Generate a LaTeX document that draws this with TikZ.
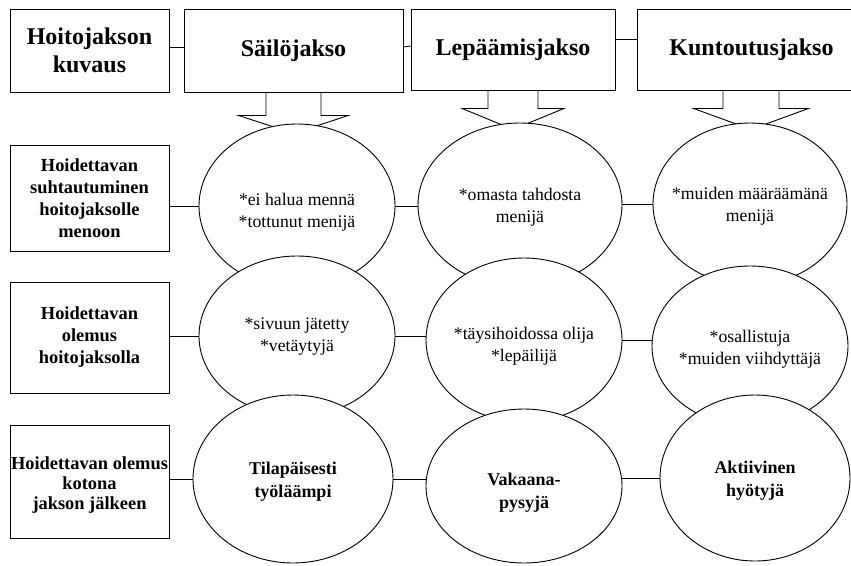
\documentclass[tikz,border=0pt]{standalone}
\usepackage{fontspec}
\setmainfont{Liberation Serif}
\usetikzlibrary{shapes.geometric}
\begin{document}
\begin{tikzpicture}[x=1pt,y=-1pt,line width=0.9pt,
  hbox/.style={draw,rectangle,inner sep=0pt,align=center,font=\fontsize{24}{28}\selectfont\bfseries},
  lbox/.style={draw,rectangle,inner sep=0pt,align=center,minimum width=159pt,font=\fontsize{18.4}{22}\selectfont\bfseries},
  oval/.style={draw,ellipse,fill=white,inner sep=0pt},
  otxt/.style={inner sep=0pt,align=center,font=\fontsize{17.7}{22}\selectfont},
  btxt/.style={inner sep=0pt,align=center,font=\fontsize{18}{23}\selectfont\bfseries},
  ltxt/.style={inner sep=0pt,align=center,font=\fontsize{18.4}{20}\selectfont\bfseries},
  link/.style={draw}]
\useasboundingbox (0,0) rectangle (851,565);
\clip (0,0) rectangle (851,565);
% header boxes
\node[hbox,minimum width=159pt,minimum height=83pt] (h0) at (89.5,50.5) {Hoitojakson\\kuvaus};
\node[hbox,minimum width=219pt,minimum height=83pt] (h1) at (293.5,50.5) {Säilöjakso};
\node[hbox,minimum width=204pt,minimum height=81pt] (h2) at (513,49.5) {Lepäämisjakso};
\node[hbox,minimum width=229pt,minimum height=81pt] (h3) at (751.5,49.5) {Kuntoutusjakso};
\draw[link] ([yshift=3.5pt]h0.east) -- ([yshift=3.5pt]h1.west);
\draw[link] ([yshift=3.5pt]h1.east) -- ([yshift=3.5pt]h2.west);
\draw[link] ([yshift=10pt]h2.east) -- ([yshift=10pt]h3.west);
% callout pointers
\draw ([xshift=-27.5pt]h1.south) -- ++(0,23) -- ++(-27.5,0) -- ++(55,18) -- ++(55,-18) -- ++(-27.5,0) -- ++(0,-23);
\draw ([xshift=-25pt]h2.south) -- ++(0,18) -- ++(-26,0) -- ++(51,21) -- ++(51,-21) -- ++(-26,0) -- ++(0,-18);
\draw ([xshift=-28.5pt]h3.south) -- ++(0,18) -- ++(-29.5,0) -- ++(57.5,21) -- ++(57.5,-21) -- ++(-29.5,0) -- ++(0,-18);
% left boxes
\node[lbox,minimum height=106pt] (b1) at (89.5,198) {Hoidettavan\\suhtautuminen\\hoitojaksolle\\menoon};
\node[lbox,minimum height=111pt] (b2) at (89.5,337.5) {Hoidettavan\\olemus\\hoitojaksolla};
\node[draw,rectangle,minimum width=159pt,minimum height=113pt] (b3) at (89.5,481.5) {};
\node[ltxt] (t3) at ([yshift=-4pt]b3.center) {Hoidettavan olemus\\kotona\\jakson jälkeen};
% row 1
\node[oval,minimum width=196pt,minimum height=164pt] (e11) at (297,206) {};
\node[otxt] (t11) at ([yshift=-6pt]e11.center) {*ei halua mennä\\*tottunut menijä};
\node[oval,minimum width=204pt,minimum height=164pt] (e12) at (520,205) {};
\node[otxt] (t12) at ([yshift=-2pt]e12.center) {*omasta tahdosta\\menijä};
\node[oval,minimum width=194pt,minimum height=162pt] (e13) at (750,204) {};
\node[otxt] (t13) at ([yshift=-2pt]e13.center) {*muiden määräämänä\\menijä};
\draw[link] (e11.west -| b1.east) -- (e11.west);
\draw[link] (e11.east) -- (e11.east -| e12.west);
\draw[link] (e13.west -| e12.east) -- (e13.west);
% row 2
\node[oval,minimum width=196pt,minimum height=160pt] (e21) at (297,336) {};
\node[otxt] (t21) at ([yshift=-1pt]e21.center) {*sivuun jätetty\\*vetäytyjä};
\node[oval,minimum width=196pt,minimum height=164pt] (e22) at (524,340) {};
\node[otxt] (t22) at ([yshift=-6pt]e22.center) {*täysihoidossa olija\\*lepäilijä};
\node[oval,minimum width=196pt,minimum height=160pt] (e23) at (750,346) {};
\node[otxt] (t23) at ([yshift=-3pt]e23.center) {*osallistuja\\*muiden viihdyttäjä};
\draw[link] (e21.west -| b2.east) -- (e21.west);
\draw[link] (e21.east) -- (e21.east -| e22.west);
\draw[link] (e22.east) -- (e22.east -| e23.west);
% row 3
\node[oval,minimum width=200pt,minimum height=168pt] (e31) at (293,479) {};
\node[btxt] (t31) at ([yshift=-3pt]e31.center) {Tilapäisesti\\työläämpi};
\node[oval,minimum width=196pt,minimum height=154pt] (e32) at (524,486) {};
\node[btxt] (t32) at ([yshift=-7pt]e32.center) {Vakaana-\\pysyjä};
\node[oval,minimum width=190pt,minimum height=166pt] (e33) at (755,478) {};
\node[btxt] (t33) at ([yshift=-3pt]e33.center) {Aktiivinen\\hyötyjä};
\draw[link] (e31.west -| b3.east) -- (e31.west);
\draw[link] (e31.east) -- (e31.east -| e32.west);
\draw[link] (e33.west -| e32.east) -- (e33.west);
\end{tikzpicture}
\end{document}
